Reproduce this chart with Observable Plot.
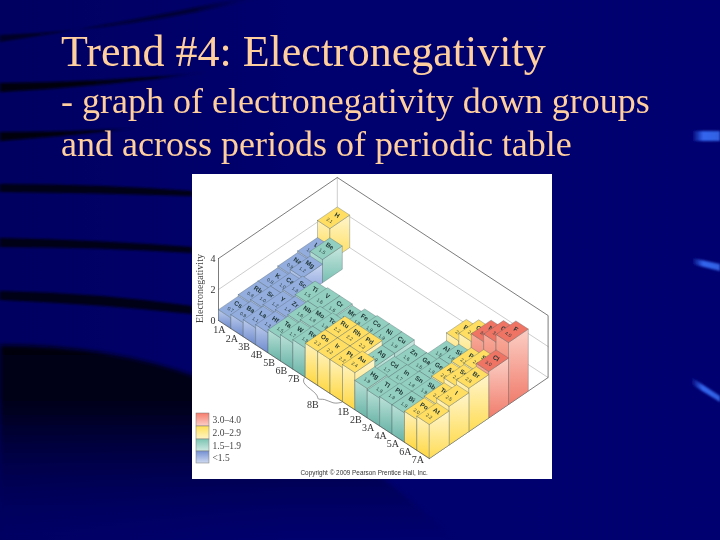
<!DOCTYPE html>
<html><head><meta charset="utf-8">
<script src="https://cdn.jsdelivr.net/npm/d3@7"></script>
<script src="https://cdn.jsdelivr.net/npm/@observablehq/plot@0.6"></script>
<style>
html,body{margin:0;padding:0;width:720px;height:540px;overflow:hidden;background:#000070}
#bg{position:absolute;left:0;top:0}
.t{position:absolute;left:61px;color:#FFCF9E;font-family:"Liberation Serif",serif;white-space:nowrap}
#title{top:27px;font-size:44px;line-height:50px}
#sub1{top:80px;font-size:36px;line-height:42px}
#sub2{top:123px;font-size:36px;line-height:42px}
#chart{position:absolute;left:192px;top:174px;width:360px;height:305px;background:#fff}
#chart svg{filter:blur(.35px)}
</style></head><body>
<svg id="bg" width="720" height="540" viewBox="0 0 720 540">
<defs>
<linearGradient id="base" x1="0" x2="1" y1="0" y2="0"><stop offset="0" stop-color="#000060"/><stop offset=".4" stop-color="#00006e"/><stop offset="1" stop-color="#000070"/></linearGradient>
<linearGradient id="big" x1="0" x2="0" y1="0" y2="1"><stop offset="0" stop-color="#000010"/><stop offset=".3" stop-color="#00001a"/><stop offset="1" stop-color="#00006c" stop-opacity=".3"/></linearGradient>
<linearGradient id="fade" x1="0" x2="1" y1="0" y2="0"><stop offset="0" stop-color="#000008"/><stop offset=".75" stop-color="#000018"/><stop offset="1" stop-color="#000040" stop-opacity="0"/></linearGradient>
<linearGradient id="dash" x1="0" x2="1" y1="0" y2="0"><stop offset="0" stop-color="#000070"/><stop offset=".4" stop-color="#3366ee"/><stop offset="1" stop-color="#3060e0"/></linearGradient>
<filter id="soft" x="-10%" y="-50%" width="120%" height="200%"><feGaussianBlur stdDeviation="1.2"/></filter>
<filter id="soft2" x="-10%" y="-10%" width="120%" height="120%"><feGaussianBlur stdDeviation="2"/></filter>
</defs>
<rect width="720" height="540" fill="url(#base)"/>
<g filter="url(#soft)">
<path d="M0 35Q130 30 260 -2L240 -2Q120 24 0 42Z" fill="url(#fade)" opacity=".6"/>
<path d="M0 83Q110 82 210 72Q110 86 0 92Z" fill="url(#fade)"/>
<path d="M0 132Q70 132 140 128Q70 136 0 141Z" fill="url(#fade)"/>
<path d="M0 184Q100 184 192 191L192 196Q100 193 0 192Z" fill="#000012"/>
<path d="M0 238Q100 240 192 247L192 253Q100 247 0 247Z" fill="#000012"/>
<path d="M0 291Q100 293 192 306L192 314Q100 304 0 300Z" fill="#000012"/>
</g>
<path d="M0 345Q110 345 200 378Q340 430 455 540L0 540Z" fill="url(#big)" filter="url(#soft2)"/>
<path d="M692 131H720V141H692Z" fill="url(#dash)" filter="url(#soft)"/>
<path d="M692 258L720 264V271L692 264Z" fill="url(#dash)" filter="url(#soft)"/>
<path d="M691 377L720 396V402L691 384Z" fill="url(#dash)" filter="url(#soft)"/>
</svg>
<div class="t" id="title">Trend #4: Electronegativity</div>
<div class="t" id="sub1">- graph of electronegativity down groups</div>
<div class="t" id="sub2">and across periods of periodic table</div>
<div id="chart"></div>
<script>
// ---- data ----
const groupLabels = ["1A","2A","3B","4B","5B","6B","7B","8B","8B","8B","1B","2B","3A","4A","5A","6A","7A"];
const _ = null;
const period1Symbols = ["H",_,_,_,_,_,_,_,_,_,_,_,_,_,_,_,_];
const period1Values  = [2.1,_,_,_,_,_,_,_,_,_,_,_,_,_,_,_,_];
const period2Symbols = ["Li","Be",_,_,_,_,_,_,_,_,_,_,"B","C","N","O","F"];
const period2Values  = [1.0,1.5,_,_,_,_,_,_,_,_,_,_,2.0,2.5,3.0,3.5,4.0];
const period3Symbols = ["Na","Mg",_,_,_,_,_,_,_,_,_,_,"Al","Si","P","S","Cl"];
const period3Values  = [0.9,1.2,_,_,_,_,_,_,_,_,_,_,1.5,1.8,2.1,2.5,3.0];
const period4Symbols = ["K","Ca","Sc","Ti","V","Cr","Mn","Fe","Co","Ni","Cu","Zn","Ga","Ge","As","Se","Br"];
const period4Values  = [0.8,1.0,1.3,1.5,1.6,1.6,1.5,1.8,1.9,1.9,1.9,1.6,1.6,1.8,2.0,2.4,2.8];
const period5Symbols = ["Rb","Sr","Y","Zr","Nb","Mo","Tc","Ru","Rh","Pd","Ag","Cd","In","Sn","Sb","Te","I"];
const period5Values  = [0.8,1.0,1.2,1.4,1.6,1.8,1.9,2.2,2.2,2.2,1.9,1.7,1.7,1.8,1.9,2.1,2.5];
const period6Symbols = ["Cs","Ba","La","Hf","Ta","W","Re","Os","Ir","Pt","Au","Hg","Tl","Pb","Bi","Po","At"];
const period6Values  = [0.7,0.9,1.1,1.3,1.5,1.7,1.9,2.2,2.2,2.2,2.4,1.9,1.8,1.9,1.9,2.0,2.2];
const yTicks = [0,2,4];
const legendLabels = ["3.0–4.0","2.0–2.9","1.5–1.9","<1.5"];
const classes = ["r","y","t","b"];

const symbols = [period1Symbols,period2Symbols,period3Symbols,period4Symbols,period5Symbols,period6Symbols];
const values  = [period1Values,period2Values,period3Values,period4Values,period5Values,period6Values];
const nGroups = groupLabels.length, nPeriods = symbols.length;

// ---- oblique projection: group, depth from the front row, electronegativity
const O = {x:26, y:146}, G = {x:12.4, y:8.12}, R = {x:19.8, y:-13.5}, H = 15.5;
const P = (g,r,h=0) => ({x:O.x+G.x*g+R.x*r, y:O.y+G.y*g+R.y*r-H*h});
const klass = v => v>=3 ? "r" : v>=2 ? "y" : v>=1.5 ? "t" : "b";
const topColor = {r:"#ef7464", y:"#ffde62", t:"#92cfc0", b:"#93addf"};
const faces = {
  r:["#f9ab9b","#e96452"], y:["#fff2bc","#ffd740"], t:["#bbe1d8","#68b3a6"], b:["#bccbec","#6e8bce"]
};
const rightFaces = {
  r:["#fccfc5","#f07c6c"], y:["#fff5cc","#ffdc55"], t:["#c8e7df","#78bfb2"], b:["#cbd7f2","#839cd9"]
};
const legendStops = {r:["#f77d6e","#fbd0c8"], y:["#ffe055","#fff4c8"], t:["#7cc5b3","#cfe9e2"], b:["#7590d2","#cfd9f0"]};

const defs = () => {
  const d = d3.create("svg:defs");
  const add = (id, a, b) => {
    const g = d.append("linearGradient").attr("id",id).attr("x1",0).attr("x2",0).attr("y1",0).attr("y2",1);
    g.append("stop").attr("offset",0).attr("stop-color",a);
    g.append("stop").attr("offset",1).attr("stop-color",b);
  };
  for (const c of classes) {
    add("f-"+c, ...faces[c]); add("s-"+c, ...rightFaces[c]); add("l-"+c, ...legendStops[c]);
  }
  return d.node();
};

const edge = "#55676a";
const cells = [];
values.forEach((row,p) => row.forEach((v,g) => { if (v!==null) cells.push({sym:symbols[p][g], v, g, r:nPeriods-1-p}); }));

const barMarks = c => {
  const k = klass(c.v), {g,r,v} = c;
  const front = [P(g,r,v),P(g+1,r,v),P(g+1,r,0),P(g,r,0),P(g,r,v)];
  const side  = [P(g+1,r,v),P(g+1,r+1,v),P(g+1,r+1,0),P(g+1,r,0),P(g+1,r,v)];
  const top   = [P(g,r,v),P(g,r+1,v),P(g+1,r+1,v),P(g+1,r,v),P(g,r,v)];
  const line = (pts,fill) => Plot.line(pts,{x:"x",y:"y",fill,stroke:edge,strokeWidth:.45,strokeOpacity:.8});
  const s = P(g+.5,r+.68,v), n = P(g+.5,r+.3,v);
  return [
    line(front,`url(#f-${k})`),
    line(side,`url(#s-${k})`),
    line(top,topColor[k]),
    Plot.text([s],{x:"x",y:"y",text:()=>c.sym,rotate:33,fontSize:6.4,fontWeight:"bold",fontFamily:"Liberation Sans",fill:"#1f3535"}),
    Plot.text([n],{x:"x",y:"y",text:()=>c.v.toFixed(1),rotate:33,fontSize:4.8,fontFamily:"Liberation Sans",fill:"#263c3c"})
  ];
};

// walls
const wallTop = [P(0,0,4),P(0,nPeriods,4),P(nGroups,nPeriods,4),P(nGroups,nPeriods,0),P(nGroups,0,0)];
const wallMid = [P(0,0,2),P(0,nPeriods,2),P(nGroups,nPeriods,2)];
const wallFloor = [P(0,nPeriods,0),P(nGroups,nPeriods,0)];
const backEdge = [P(0,nPeriods,0),P(0,nPeriods,4)];
const axisEdge = [P(0,0,0),P(0,0,4)];
const frontEdge = [P(0,0,0),P(nGroups,0,0)];

// group labels (the three 8B columns share a single label on a bracket)
const labelData = groupLabels.map((t,g)=>({t,g})).filter(d=>d.t!=="8B")
  .map(d=>({t:d.t,...P(d.g+.5,-.42)}));
const bracket = [[7,-.05],[7.25,-.32],[8.6,-.32],[8.85,-.58],[9.05,-.32],[9.75,-.32],[10,-.05]].map(([g,r])=>P(g,r));
const bracketLabel = {t:"8B",...P(8.94,-.84)};

const legendX = [4,17], legendY = [239,252,265,277,289];
const legend = classes.map((k,i)=>({k,label:legendLabels[i],x1:legendX[0],x2:legendX[1],y1:legendY[i],y2:legendY[i+1]}));
const serif = "Liberation Serif";

const chart = Plot.plot({
  width:360,height:305,margin:0,
  x:{domain:[0,360],range:[0,360],axis:null},
  y:{domain:[0,305],range:[0,305],axis:null},
  style:{background:"#fff",overflow:"visible"},
  marks:[
    defs,
    Plot.line(wallMid,{x:"x",y:"y",stroke:"#b8b8b8",strokeWidth:.7}),
    Plot.line(wallFloor,{x:"x",y:"y",stroke:"#b8b8b8",strokeWidth:.7}),
    Plot.line(backEdge,{x:"x",y:"y",stroke:"#b8b8b8",strokeWidth:.7}),
    Plot.line(wallTop,{x:"x",y:"y",stroke:"#444",strokeWidth:.7}),
    Plot.line(axisEdge,{x:"x",y:"y",stroke:"#444",strokeWidth:.7}),
    ...cells.flatMap(barMarks),
    Plot.line(frontEdge,{x:"x",y:"y",stroke:"#333",strokeWidth:.5}),
    Plot.text(yTicks.map(v=>({v,...P(0,0,v)})),{x:"x",y:"y",text:"v",dx:-3,textAnchor:"end",fontSize:10,fontFamily:serif,fill:"#333"}),
    Plot.text(["Electronegativity"],{x:()=>7,y:()=>114,text:d=>d,rotate:-90,fontSize:10,fontFamily:serif,fill:"#444"}),
    Plot.text(labelData,{x:"x",y:"y",text:"t",dx:3,fontSize:10,fontFamily:serif,fill:"#333"}),
    Plot.line(bracket,{x:"x",y:"y",stroke:"#555",strokeWidth:.6,curve:"basis"}),
    Plot.text([bracketLabel],{x:"x",y:"y",text:"t",fontSize:10,fontFamily:serif,fill:"#333"}),
    Plot.rect(legend,{x1:"x1",x2:"x2",y1:"y1",y2:"y2",fill:d=>`url(#l-${d.k})`,stroke:"#777",strokeWidth:.5}),
    Plot.text(legend,{x:()=>20,y:d=>(d.y1+d.y2)/2,text:"label",textAnchor:"start",fontSize:9.5,fontFamily:serif,fill:"#444"}),
    Plot.text(["Copyright © 2009 Pearson Prentice Hall, Inc."],{x:()=>108,y:()=>298,text:d=>d,textAnchor:"start",fontSize:6.4,fontFamily:"Liberation Sans",fill:"#333"})
  ]
});
document.getElementById("chart").append(chart);
</script>
</body></html>
